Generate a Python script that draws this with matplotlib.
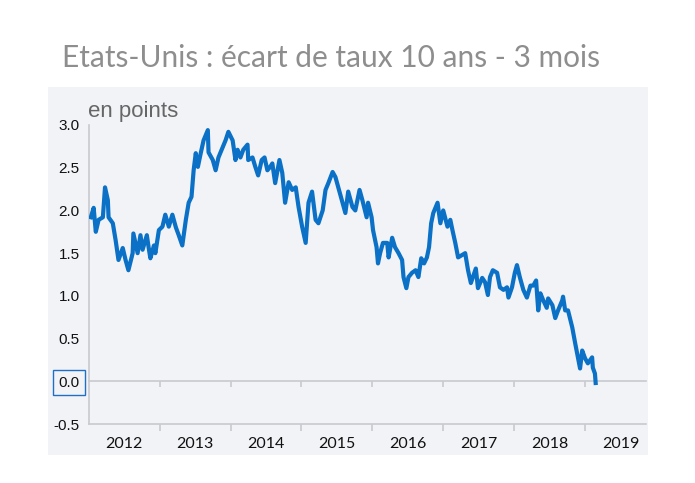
import matplotlib
matplotlib.use("Agg")
import matplotlib.pyplot as plt

# Decimal-year positions and spread values (points)
years = [2012.03, 2012.07, 2012.10, 2012.14, 2012.20, 2012.23, 2012.27, 2012.28, 2012.34, 2012.38,
         2012.42, 2012.48, 2012.52, 2012.56, 2012.62, 2012.63, 2012.69, 2012.73, 2012.76, 2012.82,
         2012.85, 2012.87, 2012.92, 2012.94, 2012.99, 2013.04, 2013.08, 2013.13, 2013.18, 2013.23,
         2013.27, 2013.32, 2013.37, 2013.41, 2013.45, 2013.48, 2013.51, 2013.54, 2013.58, 2013.62,
         2013.68, 2013.69, 2013.75, 2013.79, 2013.83, 2013.89, 2013.93, 2013.97, 2014.03, 2014.07,
         2014.10, 2014.14, 2014.18, 2014.24, 2014.25, 2014.31, 2014.35, 2014.39, 2014.44, 2014.48,
         2014.52, 2014.56, 2014.59, 2014.63, 2014.69, 2014.73, 2014.77, 2014.82, 2014.87, 2014.92,
         2014.96, 2015.01, 2015.06, 2015.10, 2015.15, 2015.20, 2015.24, 2015.30, 2015.34, 2015.38,
         2015.44, 2015.48, 2015.52, 2015.58, 2015.62, 2015.66, 2015.72, 2015.76, 2015.82, 2015.86,
         2015.92, 2015.94, 2015.99, 2016.01, 2016.06, 2016.08, 2016.11, 2016.15, 2016.21, 2016.23,
         2016.28, 2016.32, 2016.37, 2016.42, 2016.44, 2016.48, 2016.51, 2016.56, 2016.61, 2016.65,
         2016.69, 2016.73, 2016.77, 2016.80, 2016.83, 2016.86, 2016.92, 2016.96, 2017.00, 2017.06,
         2017.10, 2017.13, 2017.17, 2017.21, 2017.27, 2017.31, 2017.35, 2017.39, 2017.44, 2017.46,
         2017.49, 2017.55, 2017.59, 2017.63, 2017.66, 2017.70, 2017.76, 2017.80, 2017.85, 2017.90,
         2017.92, 2017.97, 2018.01, 2018.04, 2018.08, 2018.13, 2018.18, 2018.23, 2018.27, 2018.31,
         2018.34, 2018.37, 2018.41, 2018.46, 2018.48, 2018.54, 2018.58, 2018.62, 2018.68, 2018.69,
         2018.72, 2018.76, 2018.82, 2018.86, 2018.90, 2018.93, 2018.96, 2019.00, 2019.04, 2019.10,
         2019.11, 2019.14, 2019.15]

spread = [1.92, 2.03, 1.75, 1.89, 1.92, 2.27, 2.12, 1.92, 1.85, 1.65,
          1.42, 1.56, 1.42, 1.30, 1.50, 1.73, 1.50, 1.71, 1.54, 1.71,
          1.54, 1.44, 1.59, 1.50, 1.77, 1.81, 1.95, 1.81, 1.95, 1.80,
          1.71, 1.59, 1.89, 2.09, 2.16, 2.47, 2.67, 2.51, 2.67, 2.82,
          2.94, 2.68, 2.59, 2.47, 2.62, 2.74, 2.82, 2.92, 2.82, 2.59,
          2.71, 2.62, 2.71, 2.77, 2.59, 2.62, 2.51, 2.41, 2.59, 2.62,
          2.47, 2.51, 2.55, 2.32, 2.59, 2.44, 2.09, 2.33, 2.24, 2.27,
          2.04, 1.81, 1.62, 2.09, 2.22, 1.89, 1.85, 2.00, 2.24, 2.32,
          2.45, 2.39, 2.27, 2.09, 1.97, 2.22, 2.04, 2.00, 2.24, 2.12,
          1.92, 2.09, 1.92, 1.77, 1.57, 1.38, 1.50, 1.62, 1.62, 1.45,
          1.68, 1.57, 1.50, 1.42, 1.22, 1.09, 1.22, 1.27, 1.30, 1.22,
          1.44, 1.38, 1.45, 1.57, 1.85, 1.97, 2.09, 1.85, 2.00, 1.81,
          1.89, 1.77, 1.62, 1.45, 1.48, 1.50, 1.30, 1.15, 1.27, 1.32,
          1.09, 1.21, 1.16, 1.01, 1.22, 1.30, 1.27, 1.10, 1.07, 1.10,
          0.98, 1.10, 1.27, 1.36, 1.22, 1.07, 0.98, 1.12, 1.12, 1.18,
          0.83, 1.03, 0.95, 0.86, 0.97, 0.89, 0.74, 0.83, 0.95, 0.99,
          0.83, 0.83, 0.63, 0.45, 0.28, 0.15, 0.36, 0.27, 0.21, 0.28,
          0.16, 0.09, -0.02]

year_ticks = [2012, 2013, 2014, 2015, 2016, 2017, 2018, 2019]
y_ticks = [-0.5, 0.0, 0.5, 1.0, 1.5, 2.0, 2.5, 3.0]

title = "Etats-Unis : écart de taux 10 ans - 3 mois"
unit = "en points"

W, H = 695, 483
fig = plt.figure(figsize=(W / 100, H / 100), dpi=100)
fig.patch.set_facecolor("white")

# grey panel as a background axes
bg = fig.add_axes([48 / W, 1 - 455 / H, (648 - 48) / W, (455 - 87) / H], zorder=-5)
bg.set_facecolor("#f2f3f7")
bg.set_xticks([])
bg.set_yticks([])
for s in bg.spines.values():
    s.set_visible(False)

fig.text(62 / W, 1 - 58 / H, title, fontsize=21.5, family="Lato", fontweight="normal",
         color="#8e8e8e", va="center", ha="left")

ax = fig.add_axes([88.7 / W, 1 - 424 / H, (646 - 88.7) / W, (424 - 125) / H], zorder=1)
ax.set_facecolor("none")
ax.plot(years, spread, color="#0a71c6", lw=3.0, solid_joinstyle="round", zorder=3)

ax.set_xlim(2012.0, 2019.86)
ax.set_ylim(-0.5, 3.0)

gray = "#c9cacf"
for s in ["top", "right"]:
    ax.spines[s].set_visible(False)
ax.spines["left"].set_color(gray)
ax.spines["bottom"].set_color(gray)
ax.spines["left"].set_linewidth(1.2)
ax.spines["bottom"].set_linewidth(1.2)

ax.set_yticks(y_ticks)
ax.set_yticklabels([f"{v:.1f}" for v in y_ticks], family="Liberation Sans", fontsize=11,
                   color="#111111")
ax.tick_params(axis="y", length=0, pad=6.5)

ax.set_xticks(year_ticks[1:])
ax.set_xticklabels([])
ax.set_xticks([y + 0.5 for y in year_ticks], minor=True)
ax.set_xticklabels([str(y) for y in year_ticks], minor=True, family="Lato", fontsize=11.5,
                   color="#111111")
ax.tick_params(axis="x", which="major", length=5, color=gray, width=1.2, direction="out")
ax.tick_params(axis="x", which="minor", length=0, pad=9)

# zero line with ticks hanging below it
zero_frac = (0 - (-0.5)) / 3.5
sec = ax.secondary_xaxis(zero_frac)
sec.set_xticks(year_ticks[1:])
sec.set_xticklabels([])
sec.tick_params(axis="x", length=4, color=gray, width=1.2, direction="out")
sec.spines["bottom"].set_color(gray)
sec.spines["bottom"].set_linewidth(1.2)

for lab in ax.get_yticklabels():
    if lab.get_text() == "0.0":
        lab.set_bbox(dict(facecolor="none", edgecolor="#1d6fc7", boxstyle="square,pad=0.35",
                          lw=1.0))

fig.text(88 / W, 1 - 112 / H, unit, fontsize=16, family="Liberation Sans", color="#666666",
         va="center", ha="left")

fig.savefig("out.png", dpi=100, facecolor="white")
